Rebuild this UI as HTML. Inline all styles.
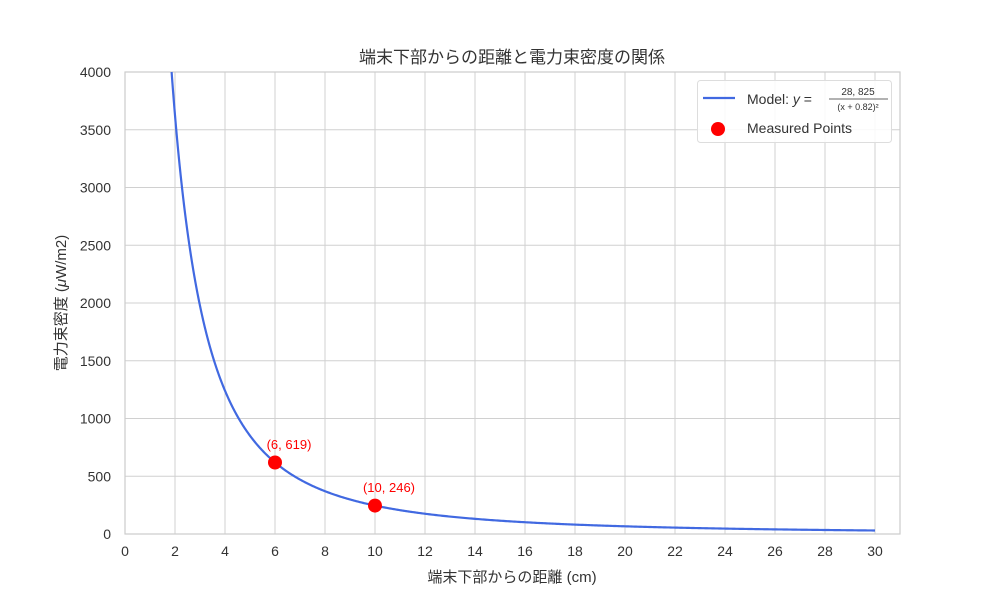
<!DOCTYPE html>
<html><head><meta charset="utf-8">
<style>
body{margin:0;background:#fff}
svg text{font-family:"Liberation Sans","Noto Sans CJK JP",sans-serif;fill:#333}
</style></head><body>
<svg id="s" width="1000" height="600" xmlns="http://www.w3.org/2000/svg">
<rect width="1000" height="600" fill="#fff"/>
<g id="grid" stroke="#d0d0d0" stroke-width="1"></g>
<rect x="125" y="72" width="775" height="462" fill="none" stroke="#ccc" stroke-width="1.2"/>
<g id="ticks" font-size="14"></g>
<path id="curve" fill="none" stroke="#4169e1" stroke-width="2.2"/>
<circle cx="275" cy="462.5" r="7" fill="red"/>
<circle cx="375" cy="505.6" r="7" fill="red"/>
<text x="289" y="449" font-size="13" text-anchor="middle" style="fill:red">(6, 619)</text>
<text x="389" y="492" font-size="13" text-anchor="middle" style="fill:red">(10, 246)</text>
<text x="512" y="63" font-size="17" text-anchor="middle">端末下部からの距離と電力束密度の関係</text>
<text x="512" y="582" font-size="15" text-anchor="middle">端末下部からの距離 (cm)</text>
<text transform="translate(66,303) rotate(-90)" font-size="15" text-anchor="middle">電力束密度 (<tspan font-style="italic">μ</tspan>W/m2)</text>
<rect x="697.5" y="80.5" width="194" height="62" rx="3" fill="#fff" fill-opacity="0.85" stroke="#ddd"/>
<line x1="703" y1="98" x2="735" y2="98" stroke="#4169e1" stroke-width="2.2"/>
<text x="747" y="104" font-size="14">Model: <tspan font-style="italic">y</tspan> =</text>
<line x1="829" y1="99" x2="888" y2="99" stroke="#333" stroke-width="0.8"/>
<text x="858" y="95" font-size="10" text-anchor="middle">28, 825</text>
<text x="858" y="110" font-size="9" text-anchor="middle">(x + 0.82)²</text>
<circle cx="718" cy="129" r="7" fill="red"/>
<text x="747" y="133" font-size="14">Measured Points</text>
</svg>
<script>
var g=document.getElementById('grid'),t=document.getElementById('ticks'),ns='http://www.w3.org/2000/svg',h='';
var tk='';
for(var i=0;i<=30;i+=2){var x=125+25*i;h+='<line x1="'+x+'" y1="72" x2="'+x+'" y2="534"/>';tk+='<text x="'+x+'" y="556" text-anchor="middle">'+i+'</text>';}
for(var v=0;v<=4000;v+=500){var y=534-v*0.1155;h+='<line x1="125" y1="'+y+'" x2="900" y2="'+y+'"/>';tk+='<text x="111" y="'+(y+5)+'" text-anchor="end">'+v+'</text>';}
g.innerHTML=h;t.innerHTML=tk;
var d='',x0=Math.sqrt(28825/4000)-0.82;
for(var k=0;k<=600;k++){var x=x0+(30-x0)*Math.pow(k/600,1.6);var y=28825/Math.pow(x+0.82,2);d+=(k?'L':'M')+(125+25*x).toFixed(2)+' '+(534-y*0.1155).toFixed(2);}
document.getElementById('curve').setAttribute('d',d);
</script>
</body></html>
